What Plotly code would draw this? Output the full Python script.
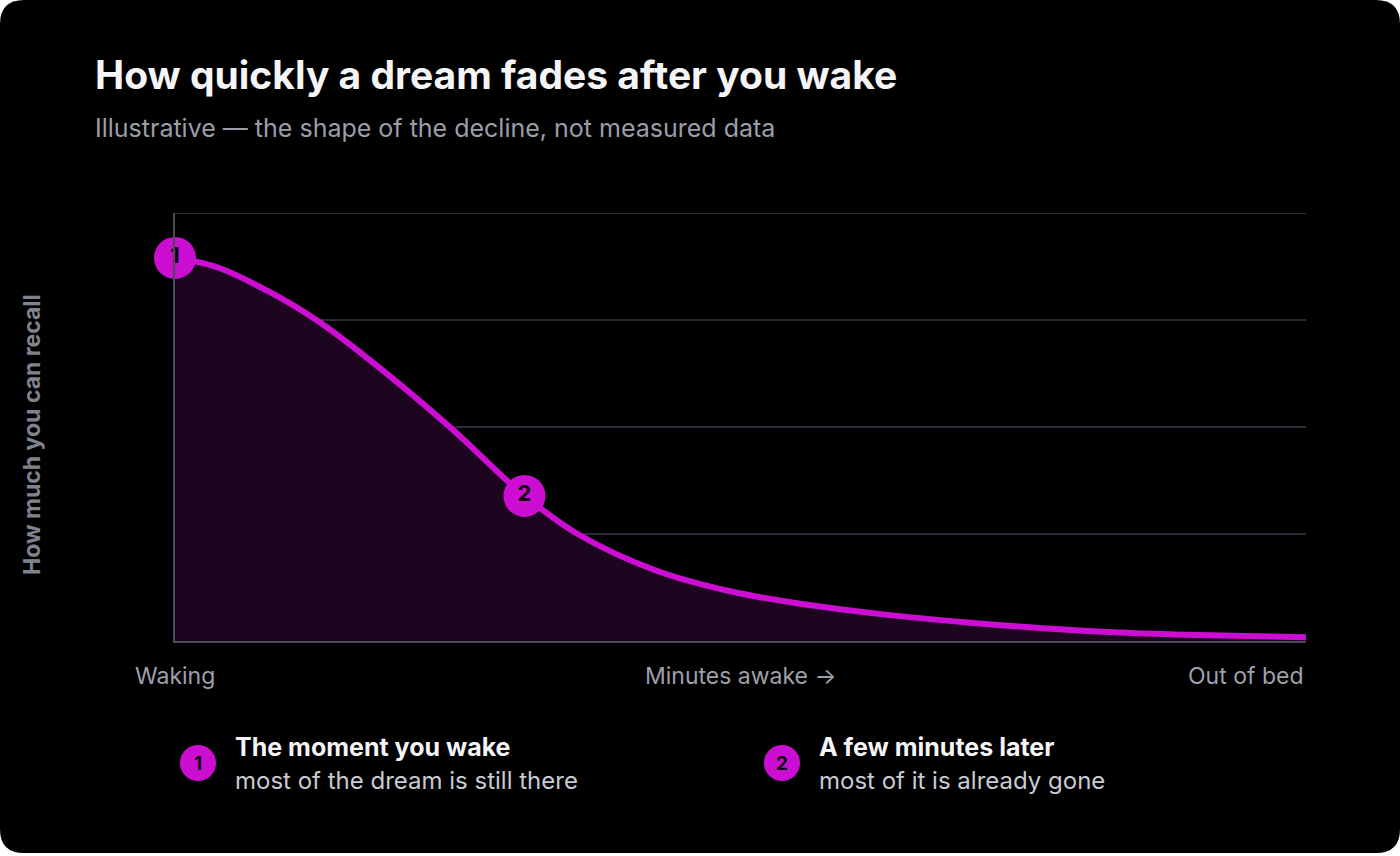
import plotly.graph_objects as go

# ---- data (illustrative curve) ----
minutes_x = [0.0, 0.0177, 0.0398, 0.084, 0.125, 0.172, 0.243, 0.293, 0.309, 0.356, 0.424,
             0.493, 0.561, 0.630, 0.698, 0.767, 0.835, 0.904, 1.0]
recall_y = [0.895, 0.887, 0.871, 0.815, 0.750, 0.657, 0.500, 0.376, 0.339, 0.250, 0.166,
            0.115, 0.084, 0.061, 0.044, 0.030, 0.020, 0.014, 0.009]

callout_x = [0.0, 0.309]
callout_y = [0.895, 0.339]
callout_labels = ["1", "2"]
callout_titles = ["The moment you wake", "A few minutes later"]
callout_notes = ["most of the dream is still there", "most of it is already gone"]

tick_labels = ["Waking", "Minutes awake →", "Out of bed"]
grid_vals = [0, 0.25, 0.5, 0.75, 1]

TITLE = "How quickly a dream fades after you wake"
SUBTITLE = "Illustrative — the shape of the decline, not measured data"
Y_TITLE = "How much you can recall"

# ---- layout geometry ----
W, H = 1400, 856
L, R, T, B = 175, 94, 213, 215
PW, PH = W - L - R, H - T - B

def px(x):
    return (x - L) / PW

def py(y):
    return (T + PH - y) / PH

MAG = "#cc0ed2"
GRID = "#2e2a38"
FONT = "Inter, 'Noto Sans', sans-serif"

fig = go.Figure()

fig.add_trace(go.Scatter(
    x=minutes_x, y=recall_y, mode="lines",
    line=dict(color=MAG, width=6, shape="spline", smoothing=1.0),
    fill="tozeroy", fillcolor="#1d0520",
    hoverinfo="skip", cliponaxis=False, showlegend=False,
))

fig.add_trace(go.Scatter(
    x=callout_x, y=callout_y, mode="markers+text",
    marker=dict(size=42, color=MAG, line=dict(width=0)),
    text=callout_labels, textposition="middle center",
    textfont=dict(family=FONT, size=22, color="#0a0a0a", weight="bold"),
    cliponaxis=False, showlegend=False, hoverinfo="skip",
))

shapes = []
# rounded black card
r = 24
x0, x1, y0, y1 = 0, W, 0, 853
path = (f"M {px(x0 + r)},{py(y0)} L {px(x1 - r)},{py(y0)} Q {px(x1)},{py(y0)} {px(x1)},{py(y0 + r)} "
        f"L {px(x1)},{py(y1 - r)} Q {px(x1)},{py(y1)} {px(x1 - r)},{py(y1)} "
        f"L {px(x0 + r)},{py(y1)} Q {px(x0)},{py(y1)} {px(x0)},{py(y1 - r)} "
        f"L {px(x0)},{py(y0 + r)} Q {px(x0)},{py(y0)} {px(x0 + r)},{py(y0)} Z")
shapes.append(dict(type="path", path=path, xref="paper", yref="paper",
                   fillcolor="#000000", line=dict(width=0), layer="below"))
# top gridline (range edge)
shapes.append(dict(type="line", xref="paper", yref="y", x0=0, x1=1, y0=grid_vals[-1], y1=grid_vals[-1],
                   line=dict(color="#3a3744", width=1.5), layer="below"))

annotations = []
annotations.append(dict(text=f"<b>{TITLE}</b>", x=px(93), y=py(75), xref="paper", yref="paper",
                        xanchor="left", yanchor="middle", showarrow=False,
                        font=dict(family=FONT, size=39, color="#f5f5f7")))
annotations.append(dict(text=SUBTITLE, x=px(93), y=py(128), xref="paper", yref="paper",
                        xanchor="left", yanchor="middle", showarrow=False,
                        font=dict(family=FONT, size=25, color="#9b9ea8")))
annotations.append(dict(text=f"<b>{Y_TITLE}</b>", x=px(32), y=py(435), xref="paper", yref="paper",
                        xanchor="center", yanchor="middle", showarrow=False, textangle=-90,
                        font=dict(family=FONT, size=23, color="#80838e")))

tick_pos = [(175, "center"), (740, "center"), (1306, "right")]
for lab, (xx, anc) in zip(tick_labels, tick_pos):
    annotations.append(dict(text=lab, x=px(xx), y=py(676), xref="paper", yref="paper",
                            xanchor=anc, yanchor="middle", showarrow=False,
                            font=dict(family=FONT, size=23, color="#9ea1ab")))

legend_x = [198, 782]
for i, cx in enumerate(legend_x):
    shapes.append(dict(type="circle", xref="paper", yref="paper",
                       xsizemode="pixel", ysizemode="pixel",
                       xanchor=px(cx), yanchor=py(763),
                       x0=-18, x1=18, y0=-18, y1=18,
                       fillcolor=MAG, line=dict(width=0)))
    annotations.append(dict(text=f"<b>{callout_labels[i]}</b>", x=px(cx), y=py(763),
                            xref="paper", yref="paper", xanchor="center", yanchor="middle",
                            showarrow=False, font=dict(family=FONT, size=19, color="#0a0a0a")))
    annotations.append(dict(text=f"<b>{callout_titles[i]}</b>", x=px(cx + 35), y=py(747),
                            xref="paper", yref="paper", xanchor="left", yanchor="middle",
                            showarrow=False, font=dict(family=FONT, size=25, color="#f5f5f7")))
    annotations.append(dict(text=callout_notes[i], x=px(cx + 35), y=py(780),
                            xref="paper", yref="paper", xanchor="left", yanchor="middle",
                            showarrow=False, font=dict(family=FONT, size=24, color="#c9cbd3")))

fig.update_layout(
    width=W, height=H,
    margin=dict(l=L, r=R, t=T, b=B),
    paper_bgcolor="#ffffff", plot_bgcolor="rgba(0,0,0,0)",
    shapes=shapes, annotations=annotations,
    showlegend=False, hovermode=False,
    xaxis=dict(range=[0, 1], showgrid=False, zeroline=False, showticklabels=False,
               showline=True, linecolor="#4b4b58", linewidth=2, ticks="", fixedrange=True),
    yaxis=dict(range=[0, 1], tickvals=grid_vals, showticklabels=False,
               showgrid=True, gridcolor=GRID, gridwidth=1.5, zeroline=False,
               showline=True, linecolor="#4b4b58", linewidth=2, ticks="", fixedrange=True),
)

fig.write_html("out.html", config={"displayModeBar": False})
